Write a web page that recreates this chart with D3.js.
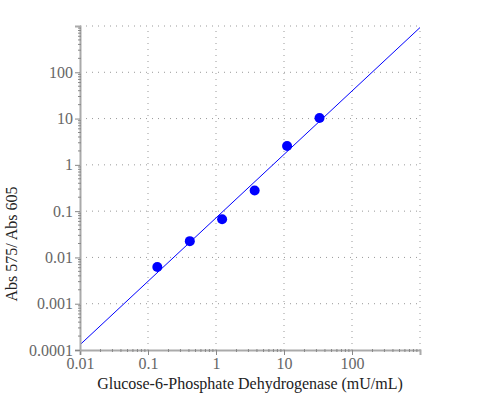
<!doctype html>
<html lang="en">
<head>
<meta charset="utf-8">
<title>G6PD standard curve</title>
<script src="https://cdn.jsdelivr.net/npm/d3@7"></script>
<style>
  body { margin: 0; background: #fff; }
  svg text { font-family: "Times New Roman", "Liberation Serif", Times, serif !important; }
</style>
</head>
<body>
<script>
    // enzyme concentration (mU/mL) and measured ratio
    var conc = [0.137, 0.412, 1.23, 3.70, 11.1, 33.3];
    var ratio = [0.0062, 0.0225, 0.067, 0.28, 2.55, 10.3];
    var xTicks = [0.01, 0.1, 1, 10, 100];
    var yTicks = [0.0001, 0.001, 0.01, 0.1, 1, 10, 100];

    var margin = {left: 80, top: 26, right: 80, bottom: 50};
    var width = 500, height = 400;

    var svg = d3.select("body").append("svg")
            .attr("width", width).attr("height", height);

    var x = d3.scaleLog().domain([0.01, 1000]).range([margin.left, width - margin.right]);
    var y = d3.scaleLog().domain([0.0001, 1000]).range([height - margin.bottom, margin.top]);

    // grid, decades only
    var grid = svg.append("g");
    grid.selectAll("line.v").data([0.1, 1, 10, 100, 1000]).enter().append("line")
        .attr("x1", function(d){ return x(d); }).attr("x2", function(d){ return x(d); })
        .attr("y1", y(0.0001)).attr("y2", y(1000))
        .attr("stroke", "#999").attr("stroke-dasharray", "1,5");
    grid.selectAll("line.h").data([0.001, 0.01, 0.1, 1, 10, 100, 1000]).enter().append("line")
        .attr("y1", function(d){ return y(d); }).attr("y2", function(d){ return y(d); })
        .attr("x1", x(0.01)).attr("x2", x(1000))
        .attr("stroke", "#999").attr("stroke-dasharray", "1,5");

    // power-law fit in log space
    var lx = conc.map(Math.log10), ly = ratio.map(Math.log10);
    var mx = d3.mean(lx), my = d3.mean(ly);
    var sxy = d3.sum(lx, function(d, i){ return (d - mx) * (ly[i] - my); });
    var sxx = d3.sum(lx, function(d){ return (d - mx) * (d - mx); });
    var slope = sxy / sxx, icpt = my - slope * mx;
    var fit = function(v){ return Math.pow(10, icpt + slope * Math.log10(v)); };

    svg.append("path")
        .datum(x.domain())
        .attr("fill", "none").attr("stroke", "#0000ff").attr("stroke-width", 1)
        .attr("d", d3.line().x(function(d){ return x(d); }).y(function(d){ return y(fit(d)); }));

    svg.append("g").selectAll("circle")
        .data(conc).enter().append("circle")
        .attr("cx", function(d){ return x(d); })
        .attr("cy", function(d, i){ return y(ratio[i]); })
        .attr("r", 5)
        .attr("fill", "#0000ff");

    // minor ticks
    var minorX = [], minorY = [];
    for (var e = -2; e < 3; e++) for (var k = 2; k < 10; k++) minorX.push(k * Math.pow(10, e));
    for (var e2 = -4; e2 < 3; e2++) for (var k2 = 2; k2 < 10; k2++) minorY.push(k2 * Math.pow(10, e2));

    var axisCol = "#aaa", labelCol = "#666";

    var xAxis = svg.append("g").attr("transform", "translate(0," + y(0.0001) + ")")
        .call(d3.axisBottom(x).tickValues(xTicks).tickSize(5).tickPadding(3)
            .tickFormat(function(d){ return String(d); }));
    var yAxis = svg.append("g").attr("transform", "translate(" + x(0.01) + ",0)")
        .call(d3.axisLeft(y).tickValues(yTicks).tickSize(5).tickPadding(2)
            .tickFormat(function(d){ return String(+d.toPrecision(1)); }));

    [xAxis, yAxis].forEach(function(a){
        a.attr("font-family", null);
        a.select(".domain").attr("stroke", axisCol).attr("stroke-width", 2);
        a.selectAll(".tick line").attr("stroke", "#888");
        a.selectAll(".tick text").attr("fill", labelCol).attr("font-size", 16);
    });

    xAxis.selectAll("line.minor").data(minorX).enter().append("line")
        .attr("x1", function(d){ return x(d); }).attr("x2", function(d){ return x(d); })
        .attr("y1", -1).attr("y2", 2).attr("stroke", "#888");
    yAxis.selectAll("line.minor").data(minorY).enter().append("line")
        .attr("y1", function(d){ return y(d); }).attr("y2", function(d){ return y(d); })
        .attr("x1", -2).attr("x2", 1).attr("stroke", "#888");

    svg.append("text")
        .attr("x", (x(0.01) + x(1000)) / 2).attr("y", 389)
        .attr("text-anchor", "middle").attr("font-size", 16).attr("fill", "#222")
        .text("Glucose-6-Phosphate Dehydrogenase (mU/mL)");

    svg.append("text")
        .attr("transform", "translate(17,244) rotate(-90)")
        .attr("text-anchor", "middle").attr("font-size", 16).attr("fill", "#222")
        .text("Abs 575/ Abs 605");
</script>
</body>
</html>
